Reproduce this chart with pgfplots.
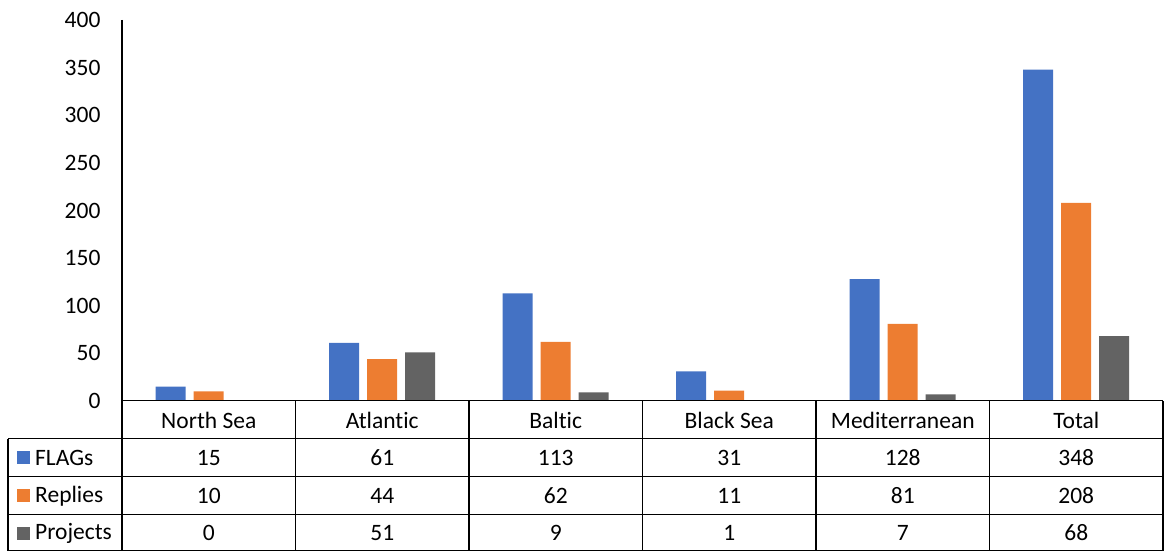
\documentclass[border=0pt]{standalone}
\usepackage{pgfplots}
\usepackage{pgfplotstable}
\pgfplotsset{compat=1.18}
\usepackage{fontspec}
\setmainfont{Carlito}[Ligatures={NoCommon}]
\definecolor{cblue}{HTML}{4472C4}
\definecolor{corange}{HTML}{ED7D31}
\definecolor{cgray}{HTML}{636363}
\newcommand\tf{\fontsize{23.5}{27}\selectfont}
\pgfplotstableread{
x FLAGs Replies Projects
0 15 10 0
1 61 44 51
2 113 62 9
3 31 11 1
4 128 81 7
5 348 208 68
}\datatable
\begin{document}
\begin{tikzpicture}[x=1pt,y=1pt]
\path[use as bounding box] (0,0) rectangle (1165,551);
\begin{axis}[at={(122pt,150pt)}, anchor=south west, scale only axis,
  width=1041pt, height=381pt,
  xmin=-0.5, xmax=5.5, ymin=0, ymax=400,
  ytick={0,50,...,400}, xtick=\empty,
  major tick length=0pt,
  axis line style={draw=none},
  ybar=8pt, bar width=30pt,
  /pgf/number format/assume math mode=true,
  yticklabel style={font=\tf, anchor=east, xshift=-18pt},
  clip=false]
\addplot[draw=none, fill=cblue] table[x=x, y=FLAGs]{\datatable};
\addplot[draw=none, fill=corange] table[x=x, y=Replies]{\datatable};
\addplot[draw=none, fill=cgray] table[x=x, y=Projects]{\datatable};
\end{axis}
% left axis line
\draw[black, line width=1.5pt] (122,531) -- (122,0);
% table lines
\draw[black, line width=1pt] (122,150) -- (1163,150);
\draw[black, line width=1pt] (8,112) -- (1163,112);
\draw[black, line width=1pt] (8,74) -- (1163,74);
\draw[black, line width=1pt] (8,36) -- (1163,36);
\draw[black, line width=1pt] (8,0.5) -- (1163,0.5);
\draw[black, line width=1.5pt] (8,112) -- (8,0);
\foreach \k in {1,...,6} {
  \draw[black, line width=1.5pt] ({122+173.5*\k},150) -- ({122+173.5*\k},0);
}
% headers
\foreach \name [count=\i from 0] in {North Sea,Atlantic,Baltic,Black Sea,Mediterranean,Total} {
  \node[font=\tf] at ({122+173.5*(\i+0.5)},131) {\name};
}
\foreach \v [count=\i from 0] in {15,61,113,31,128,348} {
  \node[font=\tf] at ({122+173.5*(\i+0.5)},93) {\v};
}
\foreach \v [count=\i from 0] in {10,44,62,11,81,208} {
  \node[font=\tf] at ({122+173.5*(\i+0.5)},55) {\v};
}
\foreach \v [count=\i from 0] in {0,51,9,1,7,68} {
  \node[font=\tf] at ({122+173.5*(\i+0.5)},18) {\v};
}
% legend keys
\fill[cblue] (17,87) rectangle (30,100);
\node[font=\tf, anchor=west, inner sep=0pt] at (35,93) {FLAGs};
\fill[corange] (17,49) rectangle (30,62);
\node[font=\tf, anchor=west, inner sep=0pt] at (35,55) {Replies};
\fill[cgray] (17,11) rectangle (30,24);
\node[font=\tf, anchor=west, inner sep=0pt] at (35,18) {Projects};
\end{tikzpicture}
\end{document}
